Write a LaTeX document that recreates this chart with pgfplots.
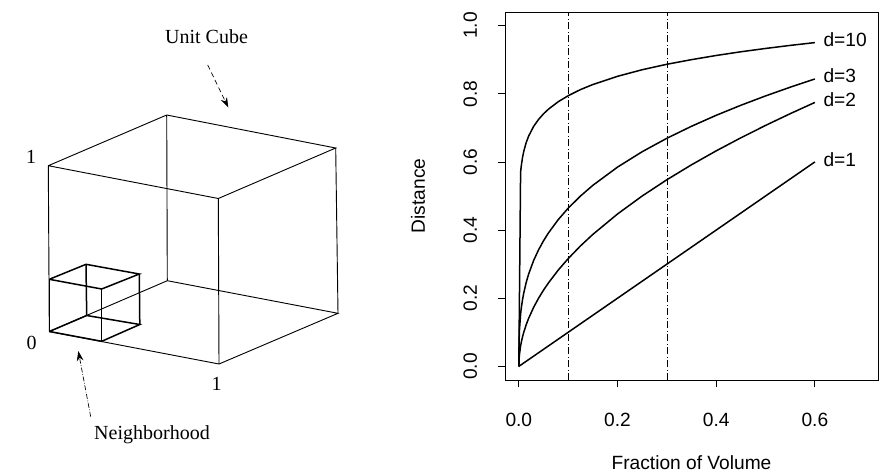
\documentclass[border=0pt]{standalone}
\usepackage{fontspec}
\setmainfont{Liberation Serif}
\setsansfont{Liberation Sans}
\usepackage{pgfplots}
\pgfplotsset{compat=1.18}
\usetikzlibrary{arrows.meta}

% one pixel of the reference = 0.6pt; picture is 882 x 474 px
\begin{document}
\begin{tikzpicture}
\useasboundingbox (0pt,0pt) rectangle (529.2pt,-284.4pt);

% left panel: unit cube and neighborhood, coordinates in pixels (y up = -pixel)
\begin{axis}[at={(0pt,0pt)}, anchor=north west, scale only axis,
    width=264pt, height=284.4pt,
    xmin=0, xmax=440, ymin=-474, ymax=0,
    hide axis, clip=false]
  % big cube
  \addplot[black, line width=0.55pt] coordinates {
    (48.3,-165.7) (218.3,-198.5) (335.7,-148) (166.7,-115) (48.3,-165.7)};
  \addplot[black, line width=0.55pt] coordinates {
    (49.3,-331.5) (219,-364) (338,-313.3) (167.3,-280.7) (49.3,-331.5)};
  \addplot[black, line width=0.55pt] coordinates {(48.3,-165.7) (49.3,-331.5)};
  \addplot[black, line width=0.55pt] coordinates {(218.3,-198.5) (219,-364)};
  \addplot[black, line width=0.55pt] coordinates {(335.7,-148) (338,-313.3)};
  \addplot[black, line width=0.55pt] coordinates {(166.7,-115) (167.3,-280.7)};
  % neighborhood cube
  \addplot[black, line width=0.9pt] coordinates {
    (49.3,-279.3) (101.7,-289) (139.3,-274) (86,-264.3) (49.3,-279.3)};
  \addplot[black, line width=0.9pt] coordinates {
    (49.3,-331.5) (101.7,-341.3) (139.8,-324.5) (86.7,-315.5) (49.3,-331.5)};
  \addplot[black, line width=0.9pt] coordinates {(49.3,-279.3) (49.3,-331.5)};
  \addplot[black, line width=0.9pt] coordinates {(101.7,-289) (101.7,-341.3)};
  \addplot[black, line width=0.9pt] coordinates {(139.3,-274) (139.8,-324.5)};
  \addplot[black, line width=0.9pt] coordinates {(86,-264.3) (86.7,-315.5)};

  \node[font=\fontsize{12}{14}\selectfont] at (206.5,-37) {Unit Cube};
  \node[font=\fontsize{12}{14}\selectfont] at (152,-435) {Neighborhood};
  \node[font=\fontsize{12}{14}\selectfont] at (31,-157) {1};
  \node[font=\fontsize{12}{14}\selectfont] at (31.5,-342.5) {0};
  \node[font=\fontsize{12}{14}\selectfont] at (216.7,-383.5) {1};

  \draw[densely dashed, line width=0.4pt, -{Stealth[length=6pt,width=4pt]}]
    (207.7,-65) -- (228.3,-107.5);
  \draw[densely dashdotted, line width=0.4pt, -{Stealth[length=6pt,width=4pt]}]
    (90.7,-416.7) -- (78.3,-351);
\end{axis}

% right panel: distance to cover a fraction of the volume
\begin{axis}[at={(303pt,-228pt)}, anchor=south west, scale only axis,
    width=223.8pt, height=220.8pt,
    xmin=-0.028, xmax=0.728, ymin=-0.04, ymax=1.04,
    xtick={0,0.2,0.4,0.6}, ytick={0,0.2,0.4,0.6,0.8,1.0},
    xtick pos=bottom, ytick pos=left,
    tick align=outside, major tick length=4.2pt,
    tick style={black, line width=0.5pt},
    axis line style={line width=0.6pt},
    /pgf/number format/.cd, fixed, fixed zerofill, precision=1,
    assume math mode=true, /pgfplots/.cd,
    ticklabel style={font=\sffamily\fontsize{11.5}{13}\selectfont},
    xticklabel shift=12pt,
    yticklabel style={rotate=90, anchor=south},
    yticklabel shift=9pt,
    xlabel={Fraction of Volume}, ylabel={Distance},
    label style={font=\sffamily\fontsize{11.5}{13}\selectfont},
    xlabel style={at={(axis description cs:0.5,-0.2255)}, anchor=center},
    ylabel style={at={(axis description cs:-0.233,0.5)}, anchor=center},
    clip=false]

  % reference lines at 10% and 30% of the volume
  \addplot[black, line width=0.4pt, dash pattern=on 4pt off 1.5pt on 0.8pt off 1.5pt]
    coordinates {(0.1,-0.04) (0.1,1.04)};
  \addplot[black, line width=0.4pt, dash pattern=on 4pt off 1.5pt on 0.8pt off 1.5pt]
    coordinates {(0.3,-0.04) (0.3,1.04)};

  % d = 10
  \addplot[black, line width=0.9pt] coordinates {
    (0,0) (0.0036,0.5697) (0.005,0.5887) (0.0075,0.6131)
    (0.01,0.6310) (0.015,0.6571) (0.02,0.6762) (0.03,0.7042) (0.04,0.7248)
    (0.05,0.7411) (0.06,0.7548) (0.08,0.7768) (0.1,0.7943) (0.125,0.8123)
    (0.15,0.8272) (0.2,0.8513) (0.25,0.8706) (0.3,0.8866) (0.35,0.9002)
    (0.4,0.9124) (0.45,0.9233) (0.5,0.9330) (0.55,0.9420) (0.6,0.9502)};
  % d = 3
  \addplot[black, line width=0.9pt] coordinates {
    (0,0) (0.001,0.1) (0.0036,0.1533) (0.005,0.1710) (0.0075,0.1957)
    (0.01,0.2154) (0.015,0.2466) (0.02,0.2714) (0.03,0.3107) (0.04,0.3420)
    (0.05,0.3684) (0.06,0.3915) (0.08,0.4309) (0.1,0.4642) (0.125,0.5)
    (0.15,0.5313) (0.2,0.5848) (0.25,0.6300) (0.3,0.6694) (0.35,0.7047)
    (0.4,0.7368) (0.45,0.7663) (0.5,0.7937) (0.55,0.8193) (0.6,0.8434)};
  % d = 2
  \addplot[black, line width=0.9pt] coordinates {
    (0,0) (0.001,0.0316) (0.0036,0.06) (0.005,0.0707) (0.0075,0.0866)
    (0.01,0.1) (0.015,0.1225) (0.02,0.1414) (0.03,0.1732) (0.04,0.2)
    (0.05,0.2236) (0.06,0.2449) (0.08,0.2828) (0.1,0.3162) (0.125,0.3536)
    (0.15,0.3873) (0.2,0.4472) (0.25,0.5) (0.3,0.5477) (0.35,0.5916)
    (0.4,0.6325) (0.45,0.6708) (0.5,0.7071) (0.55,0.7416) (0.6,0.7746)};
  % d = 1
  \addplot[black, line width=0.9pt] coordinates {(0,0) (0.6,0.6)};

  \begin{scope}[every node/.style={anchor=west, inner sep=0pt, xshift=5pt,
      font=\sffamily\fontsize{11.5}{13}\selectfont}]
    \node at (axis cs:0.6,0.959) {d=10};
    \node at (axis cs:0.6,0.852) {d=3};
    \node at (axis cs:0.6,0.783) {d=2};
    \node at (axis cs:0.6,0.607) {d=1};
  \end{scope}
\end{axis}
\end{tikzpicture}
\end{document}
